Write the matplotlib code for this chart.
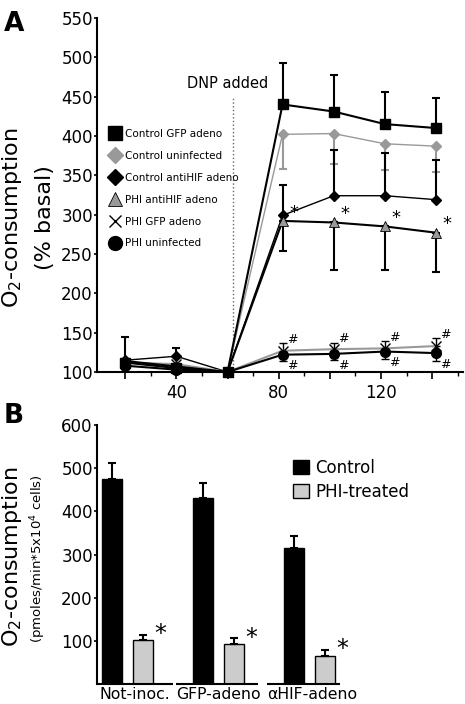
import matplotlib
matplotlib.use("Agg")
import matplotlib.pyplot as plt
from matplotlib.lines import Line2D
import numpy as np

# Panel A data (time in min, % basal)
time = [20, 40, 60, 81.5, 101.5, 121.5, 141.5]
ctrl_gfp = [112, 105, 100, 440, 431, 415, 410]
ctrl_gfp_err = [33, 0, 0, 53, 47, 41, 38]
ctrl_uninf = [113, 108, 100, 402, 403, 390, 387]
ctrl_uninf_err = [0, 0, 0, 44, 39, 33, 33]
ctrl_antihif = [115, 120, 100, 299, 324, 324, 319]
ctrl_antihif_err = [0, 10, 0, 38, 58, 54, 50]
phi_antihif = [114, 107, 100, 292, 290, 285, 277]
phi_antihif_err = [0, 0, 0, 38, 61, 55, 50]
phi_gfp = [112, 110, 100, 127, 129, 130, 133]
phi_gfp_err = [0, 0, 0, 10, 8, 9, 10]
phi_uninf = [108, 103, 100, 122, 123, 126, 124]
phi_uninf_err = [0, 0, 0, 8, 8, 9, 10]

# Panel B data
groups = ["Not-inoc.", "GFP-adeno", "\u03b1HIF-adeno"]
control = [474, 430, 314]
control_err = [37, 35, 28]
phi = [102, 92, 64]
phi_err = [12, 14, 15]

plt.rcParams["font.family"] = "DejaVu Sans"
fig = plt.figure(figsize=(4.65, 7.04), dpi=100)

# ---------- Panel A ----------
ax = fig.add_axes([0.2086, 0.4716, 0.787, 0.503])
zero = np.zeros(len(time))

ax.errorbar(time, ctrl_gfp, yerr=[zero, ctrl_gfp_err], fmt="none", ecolor="black", elinewidth=1.5, capsize=3, capthick=1.5, zorder=2)
ax.errorbar(time, ctrl_uninf, yerr=[ctrl_uninf_err, zero], fmt="none", ecolor="#999999", elinewidth=1.5, capsize=3, capthick=1.5, zorder=2)
ax.errorbar(time, ctrl_antihif, yerr=[zero, ctrl_antihif_err], fmt="none", ecolor="black", elinewidth=1.5, capsize=3, capthick=1.5, zorder=2)
ax.errorbar(time, phi_antihif, yerr=[phi_antihif_err, zero], fmt="none", ecolor="black", elinewidth=1.5, capsize=3, capthick=1.5, zorder=2)
ax.errorbar(time, phi_gfp, yerr=[zero, phi_gfp_err], fmt="none", ecolor="black", elinewidth=1, capsize=3, capthick=1, zorder=2)
ax.errorbar(time, phi_uninf, yerr=[phi_uninf_err, zero], fmt="none", ecolor="black", elinewidth=1, capsize=3, capthick=1, zorder=2)

ax.plot(time, ctrl_uninf, color="#999999", lw=1, marker="D", ms=5.5, mfc="#999999", mec="#999999", zorder=3, clip_on=False)
ax.plot(time, ctrl_antihif, color="black", lw=1, marker="D", ms=5.5, mfc="black", mec="black", zorder=3, clip_on=False)
ax.plot(time, phi_gfp, color="#999999", lw=1.5, marker="x", ms=7, mew=1, mec="black", zorder=3, clip_on=False)
ax.plot(time, phi_uninf, color="black", lw=1.5, marker="o", ms=7, mfc="black", mec="black", zorder=4, clip_on=False)
ax.plot(time, phi_antihif, color="black", lw=1.5, marker="^", ms=7, mfc="#999999", mec="black", mew=0.6, zorder=4, clip_on=False)
ax.plot(time, ctrl_gfp, color="black", lw=1.5, marker="s", ms=7.5, mfc="black", mec="black", zorder=5, clip_on=False)

# significance marks
for t, v in zip(time[3:], phi_antihif[3:]):
    ax.annotate("*", (t, v), xytext=(8, 6), textcoords="offset points", fontsize=13, ha="center", va="center")
for t, v in zip(time[3:], phi_gfp[3:]):
    ax.annotate("#", (t, v), xytext=(7, 8), textcoords="offset points", fontsize=9, ha="center", va="center", style="italic")
for t, v in zip(time[3:], phi_uninf[3:]):
    ax.annotate("#", (t, v), xytext=(7, -8), textcoords="offset points", fontsize=9, ha="center", va="center", style="italic")

ax.plot([62.3, 62.3], [100, 451], ls=":", color="#666666", lw=1, zorder=1)
ax.text(60, 466, "DNP added", fontsize=10.5, ha="center", va="center")

ax.set_xlim(9, 152)
ax.set_ylim(100, 550)
ax.set_yticks(range(100, 551, 50))
ax.set_xticks(range(20, 141, 20))
ax.set_xticklabels(["", "40", "", "80", "", "120", ""])
ax.set_xticks(range(30, 151, 20), minor=True)
ax.tick_params(axis="y", labelsize=12, length=2, width=1.2, pad=1)
ax.tick_params(axis="x", which="major", labelsize=12, length=5, width=1.2, pad=4)
ax.tick_params(axis="x", which="minor", length=3, width=1)
for s in ["top", "right"]:
    ax.spines[s].set_visible(False)
for s in ["left", "bottom"]:
    ax.spines[s].set_linewidth(1.5)

handles = [
    Line2D([], [], ls="none", marker="s", ms=10, mfc="black", mec="black"),
    Line2D([], [], ls="none", marker="D", ms=8, mfc="#999999", mec="#999999"),
    Line2D([], [], ls="none", marker="D", ms=8, mfc="black", mec="black"),
    Line2D([], [], ls="none", marker="^", ms=10, mfc="#999999", mec="black", mew=0.6),
    Line2D([], [], ls="none", marker="x", ms=9, mec="black", mew=1),
    Line2D([], [], ls="none", marker="o", ms=10, mfc="black", mec="black"),
]
labels = ["Control GFP adeno", "Control uninfected", "Control antiHIF adeno",
          "PHI antiHIF adeno", "PHI GFP adeno", "PHI uninfected"]
ax.legend(handles, labels, loc="upper left", bbox_to_anchor=(0.035, 0.686), frameon=False,
          fontsize=7.5, handlelength=1.0, handletextpad=0.5, labelspacing=1.14,
          borderpad=0, borderaxespad=0)

fig.text(0.026, 1 - 218 / 704, "O$_2$-consumption", rotation=90, fontsize=16, ha="center", va="center")
fig.text(0.097, 1 - 218 / 704, "(% basal)", rotation=90, fontsize=16, ha="center", va="center")
fig.text(0.008, 0.985, "A", fontsize=19, fontweight="bold", ha="left", va="top")

# ---------- Panel B ----------
bx = fig.add_axes([0.2086, 0.0284, 0.787, 0.3679])
x = np.arange(len(groups))
w = 0.22
off = 0.34
bx.bar(x, control, width=w, color="black", edgecolor="black", yerr=[np.zeros(3), control_err],
       error_kw=dict(ecolor="black", elinewidth=1.5, capsize=3, capthick=1.5), label="Control")
bx.bar(x + off, phi, width=w, color="#cccccc", edgecolor="black", lw=1, yerr=[np.zeros(3), phi_err],
       error_kw=dict(ecolor="black", elinewidth=1.5, capsize=3, capthick=1.5), label="PHI-treated")
for i in range(len(groups)):
    bx.text(x[i] + 0.53, phi[i] + phi_err[i] + 1, "*", fontsize=17, ha="center", va="center")

bx.set_xlim(-0.165, 3.857)
bx.set_ylim(0, 600)
bx.set_yticks(range(100, 601, 100))
bx.set_xticks(x + off / 2 + np.array([0.08, 0.0, 0.03]))
bx.set_xticklabels(groups)
bx.tick_params(axis="y", labelsize=12, length=2, width=1.2, pad=1)
bx.tick_params(axis="x", labelsize=11.3, length=0, pad=2)
for s in ["top", "right", "bottom"]:
    bx.spines[s].set_visible(False)
bx.spines["left"].set_linewidth(1.5)
# broken baseline under each group
bx.hlines([0, 0, 0], [-0.165, 0.703, 1.703], [0.67, 1.604, 2.505], color="black", lw=1.5, clip_on=False)

bx.legend(loc="upper left", bbox_to_anchor=(0.535, 0.87), frameon=False, fontsize=12,
          handlelength=1.0, handleheight=0.9, handletextpad=0.35, labelspacing=0.35,
          borderpad=0, borderaxespad=0)

fig.text(0.026, 1 - 557 / 704, "O$_2$-consumption", rotation=90, fontsize=16, ha="center", va="center")
fig.text(0.082, 1 - 559 / 704, "(pmoles/min*5x10$^4$ cells)", rotation=90, fontsize=9.5, ha="center", va="center")
fig.text(0.008, 0.428, "B", fontsize=19, fontweight="bold", ha="left", va="top")

fig.savefig("out.png", dpi=100)
